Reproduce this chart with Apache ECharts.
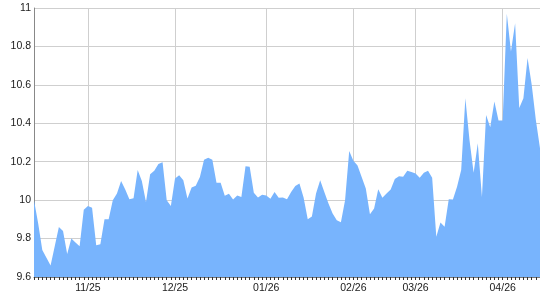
<!DOCTYPE html>
<html>
<head>
<meta charset="utf-8">
<script src="https://cdn.jsdelivr.net/npm/echarts@6/dist/echarts.min.js"></script>
<style>
html,body{margin:0;padding:0;background:#fff;}
#chart{width:540px;height:300px;}
</style>
</head>
<body>
<div id="chart"></div>
<script>
const values = [
  10.00, 9.88, 9.74, 9.70, 9.66, 9.76, 9.86, 9.84, 9.72, 9.80,
  9.78, 9.76, 9.95, 9.97, 9.96, 9.765, 9.77, 9.90, 9.90, 10.00,
  10.035, 10.10, 10.055, 10.005, 10.01, 10.157, 10.10, 9.99, 10.135, 10.153,
  10.188, 10.197, 10.00, 9.97, 10.113, 10.13, 10.104, 10.009, 10.066, 10.075,
  10.12, 10.21, 10.22, 10.21, 10.09, 10.09, 10.023, 10.033, 10.003, 10.024,
  10.017, 10.177, 10.174, 10.038, 10.014, 10.028, 10.024, 10.007, 10.042, 10.012,
  10.014, 10.005, 10.043, 10.073, 10.087, 10.014, 9.90, 9.915, 10.035, 10.104,
  10.043, 9.983, 9.93, 9.896, 9.885, 10.00, 10.256, 10.205, 10.18, 10.12,
  10.061, 9.927, 9.957, 10.057, 10.012, 10.035, 10.056, 10.11, 10.125, 10.122,
  10.153, 10.146, 10.139, 10.117, 10.143, 10.153, 10.117, 9.81, 9.883, 9.861,
  10.005, 10.003, 10.07, 10.157, 10.53, 10.313, 10.143, 10.296, 10.017, 10.443,
  10.379, 10.513, 10.414, 10.414, 10.97, 10.774, 10.92, 10.48, 10.53, 10.74,
  10.60, 10.417, 10.27
];
const tickLabels = ['11/25', '12/25', '01/26', '02/26', '03/26', '04/26'];
const tickIndex = [13, 34, 56, 77, 92, 113];
const categories = values.map((v, i) => 'd' + i);

const isTick = (idx) => tickIndex.indexOf(idx) >= 0;
const chart = echarts.init(document.getElementById('chart'), null, {renderer: 'canvas'});
const font = "'Liberation Sans', Arial, sans-serif";
chart.setOption({
  animation: false,
  backgroundColor: '#fff',
  grid: {left: 34, right: 0, top: 8, bottom: 23, containLabel: false},
  xAxis: {
    type: 'category',
    data: categories,
    boundaryGap: false,
    axisLine: {show: true, lineStyle: {color: '#777', width: 1}},
    axisTick: {show: true, interval: 0, length: 3, lineStyle: {color: '#333'}},
    axisLabel: {
      interval: isTick,
      formatter: (val, idx) => tickLabels[tickIndex.indexOf(idx)] || '',
      color: '#1a1a1a', fontSize: 10.5, fontFamily: font, margin: 6
    },
    splitLine: {show: true, interval: isTick, lineStyle: {color: '#cfcfcf', width: 1}}
  },
  yAxis: {
    type: 'value',
    min: 9.6, max: 11, interval: 0.2,
    axisLine: {show: true, lineStyle: {color: '#888', width: 1}},
    axisTick: {show: false},
    axisLabel: {color: '#1a1a1a', fontSize: 10.5, fontFamily: font, margin: 3},
    splitLine: {show: true, lineStyle: {color: '#cfcfcf', width: 1}}
  },
  series: [{
    type: 'line',
    data: values,
    symbol: 'none',
    lineStyle: {width: 0, opacity: 0},
    areaStyle: {color: '#78b4fd', opacity: 1},
    z: 3
  }]
});
</script>
</body>
</html>
